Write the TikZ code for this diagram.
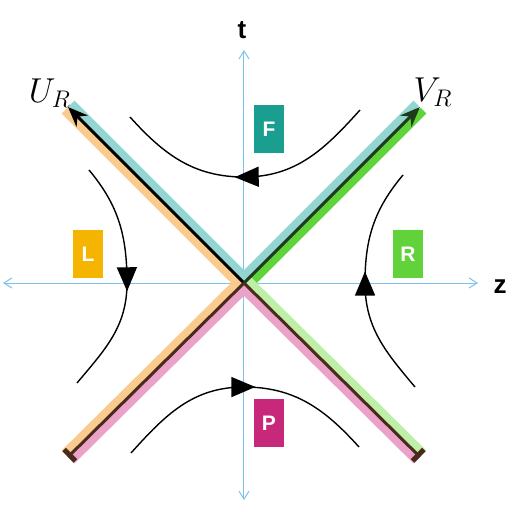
\documentclass[tikz,border=0pt]{standalone}
\usepackage{fontspec}
\setsansfont{Liberation Sans}
\usetikzlibrary{arrows.meta,decorations.markings}

\definecolor{axisblue}{HTML}{7DC2EC}
\definecolor{fteal}{HTML}{1A9E8F}
\definecolor{lamber}{HTML}{F5B400}
\definecolor{rgreen}{HTML}{62D23A}
\definecolor{pmagenta}{HTML}{C8287A}
\definecolor{bandcyan}{HTML}{93D5D2}
\definecolor{bandorange}{HTML}{F9CB8E}
\definecolor{bandgreen}{HTML}{5ED33A}
\definecolor{bandlime}{HTML}{BDEFA6}
\definecolor{bandpink}{HTML}{EBA2C9}
\definecolor{darkgreen}{HTML}{1F3A1A}
\definecolor{darkbrown}{HTML}{4A2A1A}

\tikzset{
  axisline/.style={draw=axisblue, line width=0.5pt, {Straight Barb[length=4pt,width=5pt]}-{Straight Barb[length=4pt,width=5pt]}},
  regionbox/.style={fill=#1, text=white, font=\sffamily\bfseries\fontsize{10.5}{12}\selectfont, minimum width=15pt, minimum height=24pt, inner sep=0pt},
  band/.style={draw=#1, line width=4pt},
  horizon/.style={line width=1.5pt},
  flow/.style={line width=0.7pt, postaction={decorate}, decoration={markings, mark=at position 0.5 with {\arrow[xshift=6pt]{Triangle[length=12pt,width=10pt]}}}},
  axislabel/.style={font=\sffamily\bfseries\fontsize{13}{15}\selectfont},
}

\begin{document}
\begin{tikzpicture}[x=0.5pt, y=0.5pt]
\useasboundingbox (-244,-228) rectangle (276,283);

% axes
\coordinate (zl) at (-241,0);
\coordinate (zr) at (234,0);
\coordinate (tb) at (0,-217);
\coordinate (tt) at (0,233);
\draw [axisline] (zl) -- (zr);
\draw [axisline] (tb) -- (tt);
\node [axislabel] (tlab) at (-2,253) {t};
\node [axislabel] (zlab) at (256,-4) {z};

% horizons
\coordinate (O) at (0,0);
\coordinate (UL) at (-176,176);
\coordinate (UR) at (176,176);
\coordinate (LL) at (-176,-174);
\coordinate (LR) at (176,-174);
\draw [band=bandcyan, transform canvas={shift={(1.8pt,1.8pt)}}] (O) -- (UL);
\draw [band=bandorange, transform canvas={shift={(-1.8pt,-1.8pt)}}] (O) -- (UL);
\draw [band=bandcyan, transform canvas={shift={(-1.8pt,1.8pt)}}] (O) -- (UR);
\draw [band=bandgreen, transform canvas={shift={(1.8pt,-1.8pt)}}] (O) -- (UR);
\draw [band=bandlime, transform canvas={shift={(1.8pt,1.8pt)}}] (O) -- (LR);
\draw [band=bandpink, transform canvas={shift={(-1.8pt,-1.8pt)}}] (O) -- (LR);
\draw [band=bandorange, transform canvas={shift={(-1.8pt,1.8pt)}}] (O) -- (LL);
\draw [band=bandpink, transform canvas={shift={(1.8pt,-1.8pt)}}] (O) -- (LL);
\draw [horizon, -{Stealth[length=10pt,width=8pt]}] (O) -- (UL);
\draw [horizon, draw=darkgreen, -{Stealth[length=10pt,width=8pt]}] (O) -- (UR);
\draw [horizon, draw=darkbrown, -{Bar[width=8pt,line width=2.5pt]}] (O) -- (LL);
\draw [horizon, draw=darkbrown, -{Bar[width=8pt,line width=2.5pt]}] (O) -- (LR);
\node [font=\LARGE] (ulab) at (-194,190) {$U_R$};
\node [font=\LARGE] (vlab) at (189,191) {$V_R$};

% hyperbolas
\coordinate (Fr) at (116,173);
\coordinate (Fa) at (0,106);
\coordinate (Fl) at (-114,166);
\coordinate (Rb) at (171,-104);
\coordinate (Ra) at (121,0);
\coordinate (Rt) at (159,108);
\coordinate (Lt) at (-155,113);
\coordinate (La) at (-117,0);
\coordinate (Lb) at (-167,-100);
\coordinate (Pl) at (-113,-170);
\coordinate (Pa) at (0,-104);
\coordinate (Pr) at (115,-164);
\draw [flow] (Fr) to[out=228,in=0] (Fa) to[out=180,in=-48] (Fl);
\draw [flow] (Rb) to[out=130,in=-90] (Ra) to[out=90,in=230] (Rt);
\draw [flow] (Lt) to[out=-50,in=90] (La) to[out=-90,in=50] (Lb);
\draw [flow] (Pl) to[out=48,in=180] (Pa) to[out=0,in=132] (Pr);

% regions
\node [regionbox=fteal] (F) at (25,154) {F};
\node [regionbox=lamber] (L) at (-156,29) {L};
\node [regionbox=rgreen] (R) at (164,29) {R};
\node [regionbox=pmagenta] (P) at (25,-140) {P};
\end{tikzpicture}
\end{document}
